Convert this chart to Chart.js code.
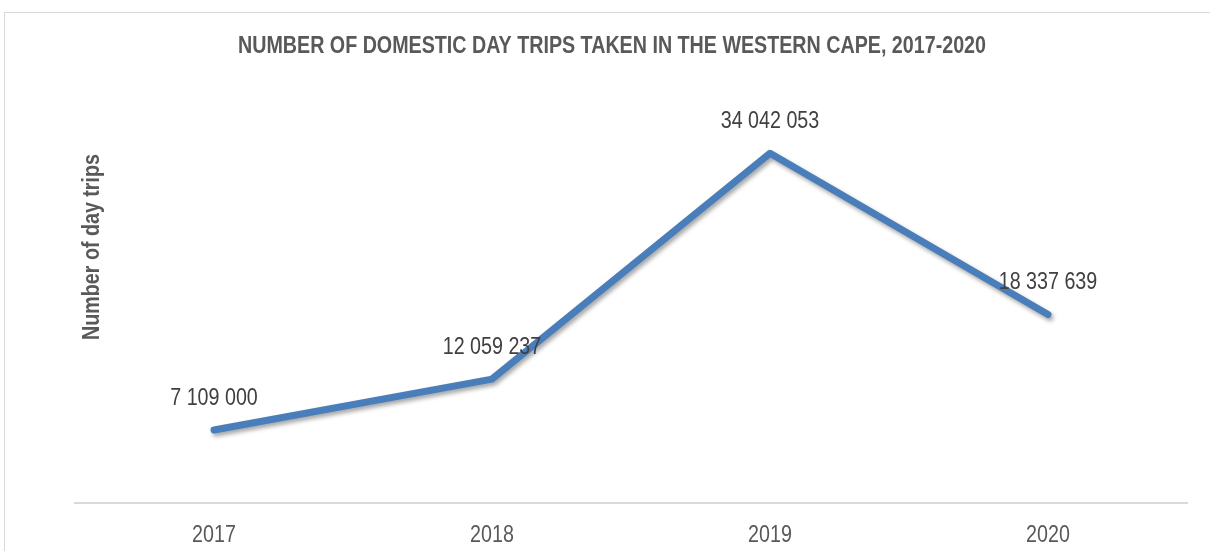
<!DOCTYPE html>
<html>
<head>
<meta charset="utf-8">
<script src="https://cdn.jsdelivr.net/npm/chart.js@4"></script>
<style>
html,body{margin:0;padding:0;background:#fff;}
#wrap{width:1210px;height:551px;position:relative;}
</style>
</head>
<body>
<div id="wrap"><canvas id="c" width="1210" height="551"></canvas></div>
<script>
const categories = ["2017", "2018", "2019", "2020"];
const dayTrips = [7109000, 12059237, 34042053, 18337639];
const chartTitle = "NUMBER OF DOMESTIC DAY TRIPS TAKEN IN THE WESTERN CAPE, 2017-2020";
const yAxisTitle = "Number of day trips";

const FONT = "'Liberation Sans', Arial, sans-serif";
const NARROW = 0.82;

function fmt(v){ return String(v).replace(/\B(?=(\d{3})+(?!\d))/g, " "); }

// draws horizontally condensed text (Arial Narrow look) centred at x,y
function narrowText(ctx, text, x, y, font, color){
  ctx.save();
  ctx.font = font;
  ctx.fillStyle = color;
  ctx.textAlign = 'center';
  ctx.textBaseline = 'middle';
  ctx.translate(x, y);
  ctx.scale(NARROW, 1);
  ctx.fillText(text, 0, 0);
  ctx.restore();
}

const framePlugin = {
  id: 'frame',
  beforeDraw(chart){
    const ctx = chart.ctx;
    ctx.save();
    ctx.fillStyle = '#fff';
    ctx.fillRect(0,0,chart.width,chart.height);
    ctx.strokeStyle = '#d9d9d9';
    ctx.lineWidth = 1;
    ctx.strokeRect(4.5, 12.5, 1220, 600);
    ctx.restore();
  },
  afterDraw(chart){
    const ctx = chart.ctx;
    // chart title
    narrowText(ctx, chartTitle, 612, 46, "bold 24px " + FONT, '#595959');
    // y axis title
    ctx.save();
    ctx.translate(92, 247);
    ctx.rotate(-Math.PI/2);
    narrowText(ctx, yAxisTitle, 0, 0, "bold 24px " + FONT, '#595959');
    ctx.restore();
    // x tick labels
    const xs = chart.scales.x;
    xs.ticks.forEach((t, i) => {
      narrowText(ctx, chart.data.labels[i], xs.getPixelForTick(i), chart.chartArea.bottom + 32, "24px " + FONT, '#595959');
    });
  }
};

const shadowPlugin = {
  id: 'shadow',
  beforeDatasetDraw(chart){
    const ctx = chart.ctx;
    ctx.save();
    ctx.shadowColor = 'rgba(0,0,0,0.35)';
    ctx.shadowBlur = 4;
    ctx.shadowOffsetX = 2;
    ctx.shadowOffsetY = 3;
  },
  afterDatasetDraw(chart){
    chart.ctx.restore();
  }
};

const labelPlugin = {
  id: 'valueLabels',
  afterDatasetsDraw(chart){
    const ctx = chart.ctx;
    const meta = chart.getDatasetMeta(0);
    meta.data.forEach((pt, i) => {
      narrowText(ctx, fmt(chart.data.datasets[0].data[i]), pt.x, pt.y - 32, "24px " + FONT, '#404040');
    });
  }
};

new Chart(document.getElementById('c'), {
  type: 'line',
  data: {
    labels: categories,
    datasets: [{
      data: dayTrips,
      borderColor: '#4a7ebb',
      borderWidth: 7,
      borderCapStyle: 'round',
      borderJoinStyle: 'round',
      pointRadius: 0,
      tension: 0,
      fill: false
    }]
  },
  options: {
    responsive: false,
    animation: false,
    layout: { padding: { left: 75, right: 23, bottom: 40, top: 92 } },
    plugins: {
      legend: { display: false },
      tooltip: { enabled: false },
      title: { display: false }
    },
    scales: {
      x: {
        offset: true,
        grid: { display: false },
        border: { display: true, color: '#d9d9d9', width: 2 },
        ticks: { display: false }
      },
      y: {
        display: false,
        min: 0,
        max: 40000000
      }
    }
  },
  plugins: [framePlugin, shadowPlugin, labelPlugin]
});
</script>
</body>
</html>
